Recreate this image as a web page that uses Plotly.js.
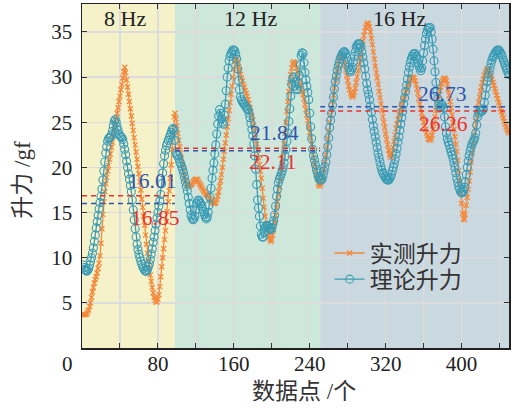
<!DOCTYPE html>
<html>
<head>
<meta charset="utf-8">
<script src="https://cdn.plot.ly/plotly-3.0.1.min.js"></script>
<style>html,body{margin:0;padding:0;background:#fff;}#chart{width:511px;height:410px;}</style>
</head>
<body>
<div id="chart"></div>
<script>
// ---- data, one value per data point 1..450 ----
const xStart = 1, xStep = 1;
const measured = [
 3.7,3.7,3.7,3.7,3.8,4.0,4.2,4.6,5.0,5.6,
 6.2,6.7,7.2,7.6,7.9,8.3,8.8,9.4,10.2,11.6,
 13.2,14.8,16.2,17.3,18.2,18.9,19.6,20.2,20.9,21.5,
 22.2,22.8,23.5,24.1,24.8,25.4,26.0,26.6,27.3,27.9,
 28.6,29.2,29.9,30.6,31.1,30.5,29.7,28.9,28.1,27.3,
 26.5,25.7,24.9,24.1,23.3,22.5,21.7,20.9,20.1,19.3,
 18.4,17.5,16.5,15.6,14.6,13.6,12.5,11.5,10.5,9.7,
 8.9,8.1,7.4,6.7,6.1,5.6,5.3,5.1,5.1,5.4,
 5.9,6.8,7.9,9.0,10.0,11.0,12.0,13.0,14.0,15.1,
 16.2,17.4,18.8,20.3,22.0,23.8,25.6,26.0,25.4,24.6,
 23.8,23.0,22.3,21.6,21.0,20.3,19.6,19.0,18.5,18.2,
 18.0,17.9,17.9,18.0,18.1,18.2,18.4,18.5,18.6,18.7,
 18.7,18.6,18.4,18.2,18.0,17.8,17.6,17.4,17.3,17.1,
 17.0,16.9,16.8,16.6,16.5,16.3,16.2,16.1,16.0,16.0,
 16.1,16.4,16.8,17.3,17.9,18.5,19.2,20.0,20.9,21.8,
 22.7,23.6,24.5,25.4,26.3,27.2,28.1,29.0,30.0,30.9,
 31.7,32.0,32.0,31.7,31.2,30.7,30.3,29.9,29.6,29.2,
 28.9,28.5,28.2,27.9,27.5,27.1,26.6,26.2,25.7,25.2,
 24.6,24.0,23.3,22.6,21.9,21.1,20.3,19.6,18.8,17.7,
 16.6,15.6,14.6,13.8,13.2,12.7,12.3,12.0,11.8,12.0,
 12.5,13.1,13.9,14.7,15.5,16.2,17.0,17.8,18.6,19.5,
 20.4,21.5,22.6,23.8,25.0,26.2,27.3,28.4,29.4,30.3,
 31.0,31.5,31.7,31.6,31.4,31.0,30.6,30.0,29.5,29.1,
 28.7,28.4,28.1,27.6,27.0,26.4,25.8,25.2,24.5,23.9,
 23.3,22.5,21.8,21.1,20.4,19.8,19.2,18.7,18.2,18.0,
 17.9,18.2,18.6,19.2,19.8,20.6,21.4,22.3,23.2,24.1,
 25.0,25.8,26.6,27.3,28.0,28.8,29.6,30.2,30.8,31.3,
 31.8,32.1,32.4,32.4,32.2,31.8,31.4,30.8,30.2,29.6,
 29.0,28.6,28.2,28.0,27.8,28.0,28.3,28.8,29.4,30.0,
 30.7,31.4,32.1,32.8,33.4,34.0,34.6,35.1,35.5,35.8,
 36.0,35.9,35.6,35.0,34.3,33.6,32.8,32.0,31.2,30.5,
 29.9,29.2,28.4,27.7,27.0,26.3,25.6,25.0,24.4,23.7,
 23.1,22.5,21.9,21.4,21.1,21.2,21.6,22.2,22.9,23.6,
 24.3,24.8,25.3,25.8,26.2,26.6,27.0,27.4,27.7,28.0,
 28.3,28.6,28.9,29.2,29.5,29.7,29.9,30.0,30.0,29.9,
 29.6,29.2,28.7,28.2,27.6,27.0,26.5,26.0,25.5,25.0,
 24.6,24.2,23.8,23.5,23.2,23.1,23.0,23.2,23.6,24.2,
 24.9,25.6,26.3,26.9,27.5,28.0,28.5,28.9,29.3,29.6,
 29.8,29.9,29.8,29.6,29.2,28.6,28.0,27.3,26.6,25.8,
 25.0,24.2,23.4,22.6,21.8,20.8,19.6,18.4,17.2,16.0,
 14.9,14.3,14.2,14.8,15.8,16.7,17.6,18.5,19.5,20.6,
 21.6,22.6,23.5,24.3,25.1,25.9,26.6,27.2,27.8,28.4,
 28.9,29.4,29.8,30.2,30.5,30.7,30.9,30.9,30.7,30.4,
 30.1,29.8,29.4,29.1,28.7,28.4,28.0,27.6,27.2,26.9,
 26.5,26.2,25.8,25.5,25.1,24.8,24.5,24.2,24.0,23.8
];
const theoretical = [
 9.2,8.9,8.7,8.6,8.5,8.6,8.8,9.2,9.6,10.0,
 10.5,11.1,11.8,12.5,13.3,14.0,14.7,15.4,16.1,16.8,
 17.6,18.6,19.6,20.6,21.6,22.3,22.9,23.2,23.3,23.4,
 23.6,24.0,24.6,25.1,25.3,25.0,24.5,24.1,23.7,23.5,
 23.4,23.3,23.1,22.6,22.0,21.4,20.7,20.0,19.3,18.7,
 18.0,17.3,16.4,15.3,14.2,13.2,12.3,11.5,10.9,10.4,
 10.0,9.6,9.3,9.0,8.8,8.6,8.5,8.5,8.7,9.0,
 9.3,9.8,10.4,11.0,11.7,12.3,13.0,13.7,14.4,15.0,
 15.7,16.3,17.0,18.2,19.4,20.4,21.3,21.9,22.4,22.7,
 23.0,23.3,23.6,23.9,24.2,24.3,24.1,23.0,21.6,21.4,
 21.3,21.0,20.6,20.4,20.1,19.8,19.4,18.9,18.4,17.9,
 17.4,16.7,16.0,15.3,14.7,14.4,14.2,14.3,14.6,15.3,
 16.0,16.3,16.4,16.2,16.0,15.7,15.4,15.1,14.8,14.5,
 14.3,14.5,15.0,15.8,16.7,17.7,18.8,19.7,20.5,21.5,
 22.5,23.7,24.8,25.7,26.4,26.0,25.4,25.0,24.8,25.8,
 27.0,28.5,30.0,31.0,31.8,32.3,32.6,32.8,33.0,33.0,
 32.9,32.5,32.0,30.9,29.6,28.6,27.8,27.5,27.3,27.1,
 27.0,26.8,26.7,26.5,26.4,26.0,25.5,24.9,24.2,23.5,
 22.6,21.3,19.8,18.1,16.4,15.5,14.6,13.5,12.6,12.3,
 12.3,12.8,13.3,13.5,13.6,13.5,13.3,13.2,13.1,13.3,
 13.7,14.1,14.7,15.7,16.8,17.6,18.3,18.7,19.0,19.3,
 19.6,20.0,20.5,21.2,22.0,22.9,23.8,25.1,26.5,27.9,
 29.2,29.8,30.0,29.5,29.0,28.7,28.6,29.3,30.2,31.4,
 32.4,32.7,32.6,31.6,30.5,29.7,29.0,28.3,27.5,26.0,
 24.5,23.2,22.0,21.3,20.8,20.3,19.8,19.4,19.0,18.8,
 18.6,18.6,18.7,19.1,19.6,20.1,20.6,21.4,22.3,23.3,
 24.4,25.2,26.0,26.9,27.8,28.7,29.5,30.1,30.7,31.2,
 31.6,32.0,32.3,32.5,32.7,32.8,32.8,32.6,32.2,31.7,
 31.1,30.8,30.6,30.8,31.1,31.7,32.3,32.8,33.3,33.5,
 33.7,33.7,33.6,33.3,32.8,32.2,31.6,30.9,30.1,29.3,
 28.6,28.1,27.5,26.8,26.1,25.3,24.6,24.0,23.4,22.8,
 22.2,21.6,21.1,20.6,20.1,19.7,19.4,19.2,19.0,18.8,
 18.7,18.6,18.6,18.7,18.9,19.2,19.6,20.0,20.4,20.9,
 21.5,22.1,22.8,23.4,24.1,24.8,25.5,26.2,27.0,27.7,
 28.4,29.1,29.8,30.5,31.1,31.6,32.0,32.3,32.5,32.6,
 32.6,32.3,32.0,31.6,31.3,31.0,30.7,31.0,31.8,32.7,
 33.5,34.2,34.8,35.2,35.4,35.5,35.5,35.0,34.2,33.1,
 31.8,30.6,29.4,28.4,27.6,27.0,26.6,26.7,26.9,26.9,
 26.6,25.6,24.5,23.8,23.2,22.8,22.5,22.1,21.7,21.4,
 21.0,20.5,20.0,19.4,18.8,18.3,17.9,17.6,17.3,17.2,
 17.2,17.4,17.8,18.4,19.2,20.0,20.7,21.3,21.8,22.2,
 22.6,22.8,23.0,23.3,23.8,24.7,25.6,26.0,26.3,26.3,
 26.2,26.3,26.5,27.2,28.0,28.8,29.5,30.0,30.5,31.0,
 31.5,31.9,32.2,32.4,32.6,32.8,32.9,33.0,33.0,32.9,
 32.7,32.5,32.2,31.9,31.6,31.3,31.0,30.8,30.5,30.3
];
const regionLabels = ["8 Hz", "12 Hz", "16 Hz"];
const regionStart = [0, 98, 251];
const regionEnd = [98, 251, 450];
const measuredMean = [16.85, 22.11, 26.26];
const theoreticalMean = [16.01, 21.84, 26.73];
const seriesNames = ["实测升力", "理论升力"];
const xTickVals = [40, 80, 120, 160, 200, 240, 280, 320, 360, 400, 440];
const xTickText = ["", "80", "", "160", "", "240", "", "320", "", "400", ""];
const yTickVals = [5, 10, 15, 20, 25, 30, 35];

// ---- styling ----
const ORANGE = "#f5883a", TEAL = "#3a9cb5";
const RED = "#ea3030", BLUE = "#2f55ad";
const regionColors = ["#f5f2c9", "#cde8db", "#cad8df"];
const SERIF = "Liberation Serif, Noto Sans CJK SC, serif";
const CJK = "Liberation Serif, Noto Sans CJK SC, sans-serif";

const xIdx = measured.map((_, i) => xStart + xStep * i);

const traces = [
  {
    x: xIdx, y: measured, name: seriesNames[0], type: "scatter", mode: "lines+markers", legend: "legend",
    line: {color: ORANGE, width: 1.3},
    marker: {symbol: "x-thin-open", size: 5, color: ORANGE, line: {color: ORANGE, width: 1.3}}
  },
  {
    x: xIdx, y: theoretical, name: seriesNames[1], type: "scatter", mode: "lines+markers", legend: "legend2",
    line: {color: TEAL, width: 1.3},
    marker: {symbol: "circle-open", size: 8, color: TEAL, line: {color: TEAL, width: 1.1}}
  }
];

const shapes = [];
regionStart.forEach((s, i) => {
  shapes.push({type: "rect", xref: "x", yref: "paper", x0: s, x1: regionEnd[i], y0: 0, y1: 1,
    fillcolor: regionColors[i], line: {width: 0}, layer: "below"});
});
regionStart.forEach((s, i) => {
  shapes.push({type: "line", xref: "x", yref: "y", x0: s, x1: regionEnd[i], y0: measuredMean[i], y1: measuredMean[i],
    line: {color: RED, width: 1.5, dash: "5px,4px"}, layer: "above"});
  shapes.push({type: "line", xref: "x", yref: "y", x0: s, x1: regionEnd[i], y0: theoreticalMean[i], y1: theoreticalMean[i],
    line: {color: BLUE, width: 1.5, dash: "5px,4px"}, layer: "above"});
});

// label positions (layout only)
const regionLabelX = [45, 178, 335];
const measLabelPos = [[77, 14.4], [201, 20.6], [380.5, 24.8]];
const theoLabelPos = [[74, 18.5], [203, 23.8], [379.5, 28.1]];

const annotations = [];
regionLabels.forEach((t, i) => {
  annotations.push({text: t, x: regionLabelX[i], xref: "x", y: 0.957, yref: "paper",
    showarrow: false, xanchor: "center", yanchor: "middle", font: {family: SERIF, size: 22, color: "#222"}});
});
measuredMean.forEach((m, i) => {
  annotations.push({text: m.toFixed(2), x: measLabelPos[i][0], y: measLabelPos[i][1], xref: "x", yref: "y",
    showarrow: false, xanchor: "center", yanchor: "middle", font: {family: SERIF, size: 21.5, color: RED}});
});
theoreticalMean.forEach((m, i) => {
  annotations.push({text: m.toFixed(2), x: theoLabelPos[i][0], y: theoLabelPos[i][1], xref: "x", yref: "y",
    showarrow: false, xanchor: "center", yanchor: "middle", font: {family: SERIF, size: 21.5, color: BLUE}});
});
annotations.push({text: "0", x: -0.033, xref: "paper", y: -0.047, yref: "paper", showarrow: false,
  xanchor: "center", yanchor: "middle", font: {family: SERIF, size: 21, color: "#222"}});
annotations.push({text: "数据点 /个", x: 0.519, xref: "paper", y: -0.125, yref: "paper", showarrow: false,
  xanchor: "center", yanchor: "middle", font: {family: CJK, size: 23, color: "#333"}});
annotations.push({text: "升力 /gf", x: -0.14, xref: "paper", y: 0.49, yref: "paper", showarrow: false,
  textangle: -90, xanchor: "center", yanchor: "middle", font: {family: CJK, size: 23, color: "#333"}});

const axisCommon = {
  showline: true, linecolor: "#222", linewidth: 1.5, mirror: "allticks",
  ticks: "inside", ticklen: 5, tickwidth: 1, tickcolor: "#333",
  showgrid: true, gridcolor: "#dcdcdc", gridwidth: 1.5, zeroline: false,
  tickfont: {family: SERIF, size: 21, color: "#222"}
};

const legendCommon = {xanchor: "left", yanchor: "middle", bgcolor: "rgba(0,0,0,0)", borderwidth: 0,
  font: {family: CJK, size: 23, color: "#333"}};

const layout = {
  width: 511, height: 410,
  margin: {l: 82, r: 2, t: 4, b: 62, pad: 0},
  paper_bgcolor: "#fff", plot_bgcolor: "#fff",
  font: {family: SERIF, size: 21, color: "#222"},
  xaxis: Object.assign({}, axisCommon, {range: [0, 450], tickmode: "array", tickvals: xTickVals, ticktext: xTickText, ticklabelstandoff: -4}),
  yaxis: Object.assign({}, axisCommon, {range: [0, 38.1], tickmode: "array", tickvals: yTickVals, ticklabelstandoff: 4}),
  showlegend: true,
  legend: Object.assign({}, legendCommon, {x: 0.58, y: 0.276}),
  legend2: Object.assign({}, legendCommon, {x: 0.58, y: 0.2}),
  shapes: shapes,
  annotations: annotations
};

Plotly.newPlot("chart", traces, layout, {staticPlot: true, displayModeBar: false});
</script>
</body>
</html>
